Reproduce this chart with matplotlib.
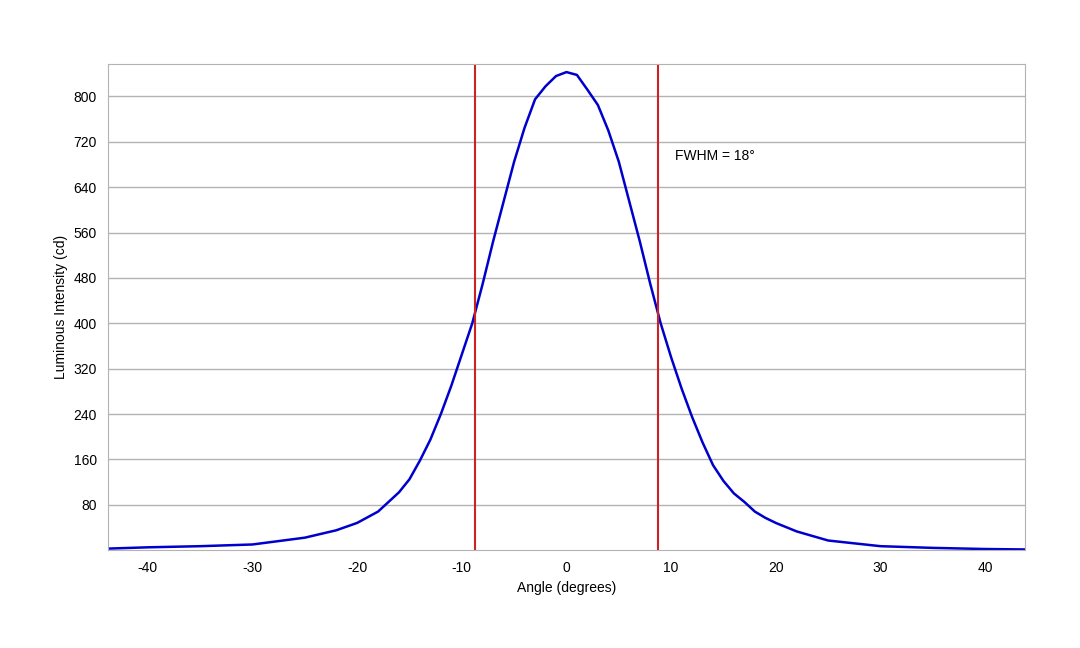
import matplotlib.pyplot as plt

plt.rcParams['font.family'] = ['Liberation Sans', 'DejaVu Sans']
plt.rcParams['axes.unicode_minus'] = False

angle = [-45, -40, -35, -30, -25, -22, -20, -19, -18, -17, -16, -15, -14, -13, -12, -11, -10, -9, -8, -7, -6, -5, -4, -3, -2, -1, 0,
         1, 2, 3, 4, 5, 6, 7, 8, 9, 10, 11, 12, 13, 14, 15, 16, 17, 18, 19, 20, 22, 25, 30, 35, 40, 45]
intensity = [2, 5, 7, 10, 22, 35, 48, 58, 68, 85, 102, 125, 158, 195, 240, 290, 345, 400, 470, 545, 615, 685, 745, 795, 818, 836, 843,
             838, 812, 785, 740, 685, 615, 545, 470, 400, 340, 285, 235, 190, 150, 122, 100, 85, 68, 57, 48, 33, 17, 7, 4, 2, 1]
fwhm_lines = [-8.75, 8.75]
y_ticks = [80, 160, 240, 320, 400, 480, 560, 640, 720, 800]
x_ticks = [-40, -30, -20, -10, 0, 10, 20, 30, 40]

fig = plt.figure(figsize=(10.8, 6.48), dpi=100)
ax = fig.add_axes([0.1, 0.151, 0.849, 0.75])

ax.plot(angle, intensity, color='#0000cc', linewidth=1.8)
for x in fwhm_lines:
    ax.axvline(x, color='#cc2222', linewidth=1.5)

ax.set_xlim(-43.8, 43.8)
ax.set_ylim(0, 857)
ax.set_xticks(x_ticks)
ax.set_yticks(y_ticks)
ax.yaxis.grid(True, color='#b3b3b3', linewidth=1)
ax.set_axisbelow(True)
ax.tick_params(labelsize=10, length=0, pad=8)
for s in ax.spines.values():
    s.set_color('#b3b3b3')

ax.text(10.4, 688, 'FWHM = 18°', fontsize=10)
ax.set_xlabel('Angle (degrees)', fontsize=10)
ax.set_ylabel('Luminous Intensity (cd)', fontsize=10)

fig.savefig('out.png')
